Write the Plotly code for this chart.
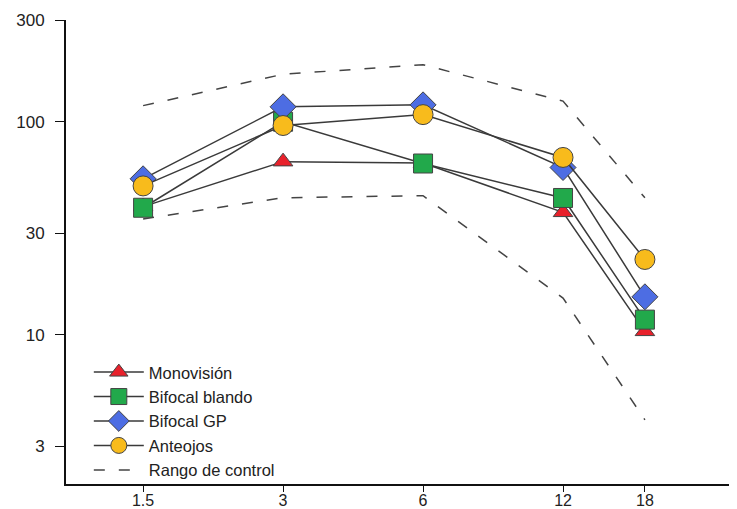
import plotly.graph_objects as go
import math

meses = [1.5, 3, 6, 12, 18]
tick_x = ["1.5", "3", "6", "12", "18"]
tick_y_vals = [3, 10, 30, 100, 300]
tick_y_text = ["3", "10", "30", "100", "300"]

monovision = [40, 65, 64, 37.6, 10.4]
bifocal_blando = [39.5, 100, 63.7, 43.9, 11.8]
bifocal_gp = [54, 117.5, 120, 61, 15.1]
anteojos = [50, 96, 108, 68, 22.6]
rango_sup = [119, 167, 185, 125, 44]
rango_inf = [35, 44, 45, 14.9, 4.0]

font_fam = "Arial, Liberation Sans, sans-serif"
line_col = "#3a3a3a"
edge = dict(color="#444444", width=1)

fig = go.Figure()

fig.add_trace(go.Scatter(x=meses, y=rango_sup, mode="lines", name="Rango de control",
                         line=dict(color="#444444", width=1.5, dash="11px,14px"),
                         legendgroup="rango", legendrank=1000))
fig.add_trace(go.Scatter(x=meses, y=rango_inf, mode="lines", name="Rango de control",
                         line=dict(color="#444444", width=1.5, dash="11px,14px"),
                         legendgroup="rango", showlegend=False))

series = [
    ("Monovisión", monovision, "triangle-up", "#e8212b", 17),
    ("Bifocal blando", bifocal_blando, "square", "#22a94b", 19),
    ("Bifocal GP", bifocal_gp, "diamond", "#4d6de3", 20),
    ("Anteojos", anteojos, "circle", "#f8bb1c", 20),
]
for i, (name, vals, sym, col, sz) in enumerate(series):
    fig.add_trace(go.Scatter(x=meses, y=vals, mode="lines+markers", name=name,
                             line=dict(color=line_col, width=1.5),
                             marker=dict(symbol=sym, color=col, size=sz, line=edge),
                             legendrank=i + 1))

# page body has an 8px margin, so the figure is sized to fit the 737x509 window
fig.update_layout(
    width=729, height=501,
    margin=dict(l=58, r=0, t=12, b=25),
    paper_bgcolor="white", plot_bgcolor="white",
    font=dict(family=font_fam, size=17, color="#222222"),
    showlegend=True,
    legend=dict(x=0.034, y=0.135, xanchor="left", yanchor="middle",
                bgcolor="rgba(0,0,0,0)", font=dict(size=16.5, family=font_fam),
                tracegroupgap=0, itemwidth=50),
)
fig.update_xaxes(type="log", range=[math.log10(1.024), math.log10(28.4)],
                 tickvals=meses, ticktext=tick_x, automargin=False,
                 showgrid=False, zeroline=False, showline=True,
                 linecolor="#111111", linewidth=1.5,
                 ticks="outside", ticklen=6, tickcolor="#111111", tickwidth=1,
                 tickfont=dict(size=16), ticklabelstandoff=-5)
fig.update_yaxes(type="log", range=[math.log10(2), math.log10(300)],
                 tickvals=tick_y_vals, ticktext=tick_y_text, automargin=False,
                 showgrid=False, zeroline=False, showline=True,
                 linecolor="#111111", linewidth=2,
                 ticks="outside", ticklen=9, tickcolor="#111111", tickwidth=1,
                 tickfont=dict(size=17), ticklabelstandoff=7)

fig.write_html("out.html")
